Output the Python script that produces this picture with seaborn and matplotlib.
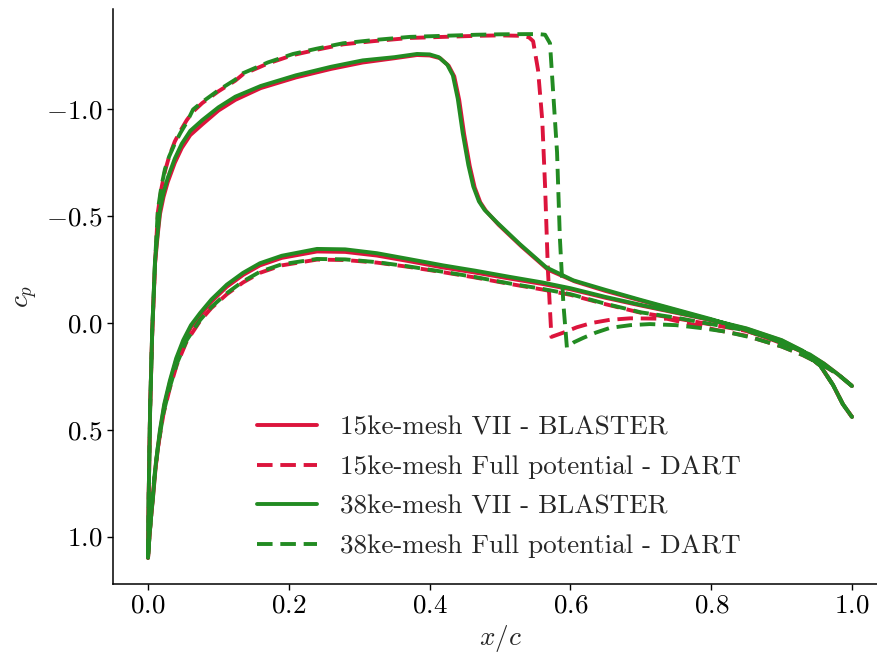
import numpy as np
import matplotlib
matplotlib.use("Agg")
import matplotlib.pyplot as plt
import seaborn as sns

# ---------------------------------------------------------------------------
# Pressure coefficient distributions (upper / lower surface, LE -> TE)
# ---------------------------------------------------------------------------

# 15ke-mesh, viscous-inviscid interaction (BLASTER)
vii15_up_x = [0.0, 0.001, 0.003, 0.006, 0.010, 0.014, 0.017, 0.022, 0.028, 0.038, 0.048,
              0.060, 0.077, 0.10, 0.124, 0.16, 0.21, 0.26, 0.305, 0.35, 0.382, 0.40, 0.415,
              0.427, 0.435, 0.442, 0.449, 0.457, 0.464, 0.472, 0.480, 0.498, 0.530, 0.568,
              0.606, 0.65, 0.70, 0.75, 0.80, 0.84, 0.88, 0.912, 0.94, 0.96, 0.98, 1.0]
vii15_up_cp = [1.10, 0.80, 0.40, 0.04, -0.28, -0.42, -0.51, -0.59, -0.66, -0.75, -0.82,
               -0.88, -0.93, -0.995, -1.045, -1.10, -1.15, -1.19, -1.22, -1.24, -1.255, -1.253,
               -1.24, -1.205, -1.155, -1.045, -0.885, -0.735, -0.635, -0.565, -0.525, -0.46,
               -0.36, -0.25, -0.195, -0.15, -0.105, -0.06, -0.015, 0.025, 0.07, 0.11, 0.15,
               0.19, 0.24, 0.295]
vii15_lo_x = [0.0, 0.002, 0.004, 0.007, 0.011, 0.017, 0.023, 0.031, 0.04, 0.05, 0.061, 0.074,
              0.09, 0.112, 0.135, 0.159, 0.19, 0.24, 0.28, 0.325, 0.37, 0.419, 0.465, 0.514,
              0.56, 0.60, 0.65, 0.70, 0.75, 0.80, 0.85, 0.90, 0.93, 0.955, 0.973, 0.987, 1.0]
vii15_lo_cp = [1.10, 1.00, 0.92, 0.82, 0.67, 0.51, 0.39, 0.28, 0.175, 0.09, 0.02, -0.035,
               -0.10, -0.17, -0.225, -0.27, -0.305, -0.335, -0.333, -0.316, -0.29, -0.26,
               -0.236, -0.208, -0.183, -0.158, -0.118, -0.082, -0.048, -0.013, 0.027, 0.082,
               0.132, 0.2, 0.29, 0.38, 0.44]

# 15ke-mesh, full potential (DART)
fp15_up_x = [0.0, 0.001, 0.003, 0.006, 0.010, 0.014, 0.019, 0.024, 0.030, 0.038, 0.046,
             0.055, 0.064, 0.077, 0.10, 0.124, 0.135, 0.17, 0.206, 0.24, 0.277, 0.32, 0.372,
             0.42, 0.467, 0.50, 0.530, 0.541, 0.547, 0.554, 0.560, 0.564, 0.568, 0.573,
             0.590, 0.609, 0.630, 0.656, 0.685, 0.737, 0.808, 0.85, 0.90, 0.93, 0.96, 0.98, 1.0]
fp15_up_cp = [1.10, 0.80, 0.40, 0.04, -0.28, -0.52, -0.63, -0.71, -0.78, -0.85, -0.90,
              -0.95, -0.99, -1.03, -1.085, -1.135, -1.165, -1.215, -1.255, -1.28, -1.305,
              -1.32, -1.335, -1.34, -1.345, -1.347, -1.345, -1.338, -1.32, -1.185, -0.95,
              -0.64, -0.25, 0.065, 0.045, 0.02, 0.0, -0.015, -0.022, -0.02, 0.033, 0.06, 0.11,
              0.15, 0.2, 0.24, 0.295]
fp15_lo_x = [0.0, 0.002, 0.005, 0.009, 0.014, 0.022, 0.031, 0.041, 0.055, 0.074, 0.09,
             0.112, 0.135, 0.159, 0.19, 0.24, 0.28, 0.325, 0.37, 0.419, 0.465, 0.514, 0.56,
             0.60, 0.65, 0.70, 0.75, 0.80, 0.85, 0.90, 0.93, 0.955, 0.973, 0.987, 1.0]
fp15_lo_cp = [1.10, 1.00, 0.88, 0.725, 0.585, 0.425, 0.305, 0.195, 0.085, -0.01, -0.07,
              -0.135, -0.19, -0.235, -0.27, -0.297, -0.295, -0.283, -0.263, -0.238, -0.213,
              -0.183, -0.157, -0.132, -0.088, -0.048, -0.022, 0.007, 0.037, 0.09, 0.135, 0.2,
              0.29, 0.38, 0.44]

# 38ke-mesh, viscous-inviscid interaction (BLASTER)
vii38_up_x = [0.0, 0.001, 0.003, 0.006, 0.010, 0.014, 0.017, 0.022, 0.028, 0.038, 0.048,
              0.060, 0.077, 0.10, 0.124, 0.16, 0.21, 0.26, 0.305, 0.35, 0.382, 0.40, 0.413,
              0.425, 0.433, 0.440, 0.447, 0.455, 0.462, 0.470, 0.478, 0.496, 0.528, 0.566,
              0.604, 0.65, 0.70, 0.75, 0.80, 0.84, 0.88, 0.912, 0.94, 0.96, 0.98, 1.0]
vii38_up_cp = [1.10, 0.80, 0.40, 0.03, -0.295, -0.435, -0.53, -0.61, -0.68, -0.77, -0.84,
               -0.90, -0.95, -1.01, -1.06, -1.11, -1.16, -1.20, -1.23, -1.245, -1.26, -1.258,
               -1.245, -1.21, -1.16, -1.05, -0.89, -0.74, -0.64, -0.57, -0.53, -0.47, -0.37,
               -0.26, -0.20, -0.155, -0.108, -0.063, -0.018, 0.022, 0.067, 0.107, 0.147,
               0.19, 0.24, 0.295]
vii38_lo_x = [0.0, 0.002, 0.004, 0.007, 0.011, 0.017, 0.023, 0.031, 0.04, 0.05, 0.061, 0.074,
              0.09, 0.112, 0.135, 0.159, 0.19, 0.24, 0.28, 0.325, 0.37, 0.419, 0.465, 0.514,
              0.56, 0.60, 0.65, 0.70, 0.75, 0.80, 0.85, 0.90, 0.93, 0.955, 0.973, 0.987, 1.0]
vii38_lo_cp = [1.10, 1.00, 0.92, 0.815, 0.66, 0.50, 0.38, 0.27, 0.165, 0.08, 0.01, -0.047,
               -0.11, -0.18, -0.235, -0.28, -0.315, -0.347, -0.345, -0.327, -0.30, -0.27,
               -0.245, -0.216, -0.19, -0.163, -0.122, -0.085, -0.05, -0.015, 0.025, 0.08,
               0.13, 0.2, 0.29, 0.38, 0.44]

# 38ke-mesh, full potential (DART)
fp38_up_x = [0.0, 0.001, 0.003, 0.006, 0.010, 0.014, 0.019, 0.024, 0.030, 0.038, 0.046,
             0.055, 0.064, 0.077, 0.10, 0.124, 0.135, 0.17, 0.206, 0.24, 0.277, 0.32, 0.372,
             0.42, 0.467, 0.50, 0.538, 0.555, 0.564, 0.571, 0.575, 0.581, 0.585, 0.590,
             0.595, 0.605, 0.618, 0.636, 0.656, 0.685, 0.713, 0.75, 0.784, 0.82, 0.86, 0.90,
             0.93, 0.96, 0.98, 1.0]
fp38_up_cp = [1.10, 0.80, 0.40, 0.03, -0.29, -0.53, -0.64, -0.72, -0.78, -0.84, -0.89,
              -0.94, -1.0, -1.035, -1.09, -1.14, -1.17, -1.22, -1.26, -1.285, -1.31, -1.325,
              -1.34, -1.345, -1.35, -1.352, -1.353, -1.353, -1.35, -1.31, -1.105, -0.80,
              -0.40, -0.09, 0.115, 0.09, 0.07, 0.045, 0.023, 0.01, 0.005, 0.01, 0.023, 0.04,
              0.07, 0.11, 0.15, 0.2, 0.24, 0.295]
fp38_lo_x = [0.0, 0.002, 0.005, 0.009, 0.014, 0.022, 0.031, 0.041, 0.055, 0.074, 0.09,
             0.112, 0.135, 0.159, 0.19, 0.24, 0.28, 0.325, 0.37, 0.419, 0.465, 0.514, 0.56,
             0.60, 0.65, 0.70, 0.75, 0.80, 0.85, 0.90, 0.93, 0.955, 0.973, 0.987, 1.0]
fp38_lo_cp = [1.10, 1.00, 0.88, 0.72, 0.58, 0.42, 0.30, 0.19, 0.08, -0.014, -0.075, -0.14,
              -0.195, -0.24, -0.275, -0.30, -0.298, -0.285, -0.265, -0.24, -0.215, -0.185,
              -0.16, -0.135, -0.09, -0.05, -0.025, 0.005, 0.035, 0.09, 0.135, 0.2, 0.29, 0.38,
              0.44]

labels = ["15ke-mesh VII - BLASTER", "15ke-mesh Full potential - DART",
          "38ke-mesh VII - BLASTER", "38ke-mesh Full potential - DART"]
colors = ["crimson", "crimson", "forestgreen", "forestgreen"]
styles = ["-", (0, (4, 2)), "-", (0, (4, 2))]
x_ticks = [0.0, 0.2, 0.4, 0.6, 0.8, 1.0]
y_ticks = [-1.0, -0.5, 0.0, 0.5, 1.0]

series = [
    (vii15_up_x, vii15_up_cp, vii15_lo_x, vii15_lo_cp),
    (fp15_up_x, fp15_up_cp, fp15_lo_x, fp15_lo_cp),
    (vii38_up_x, vii38_up_cp, vii38_lo_x, vii38_lo_cp),
    (fp38_up_x, fp38_up_cp, fp38_lo_x, fp38_lo_cp),
]

# ---------------------------------------------------------------------------
sns.set_theme(style="ticks")
plt.rcParams.update({
    "font.family": "serif",
    "font.serif": ["cmr10"],
    "mathtext.fontset": "cm",
    "axes.formatter.use_mathtext": True,
    "axes.unicode_minus": True,
    "font.size": 19.5,
    "axes.labelsize": 19.5,
    "xtick.labelsize": 19.5,
    "ytick.labelsize": 19.5,
    "legend.fontsize": 19.5,
    "axes.linewidth": 1.1,
    "xtick.major.size": 4,
    "ytick.major.size": 4,
    "xtick.major.width": 1.0,
    "ytick.major.width": 1.0,
    "axes.edgecolor": "black",
    "xtick.color": "black",
    "ytick.color": "black",
})

fig = plt.figure(figsize=(8.78, 6.61), dpi=100)
ax = fig.add_axes([0.1285, 0.1172, 0.882, 0.869])

for (ux, ucp, lx, lcp), lab, col, ls in zip(series, labels, colors, styles):
    # closed contour: upper surface TE -> LE, then lower surface LE -> TE
    xs = np.concatenate([np.asarray(ux)[::-1], np.asarray(lx)[1:]])
    cps = np.concatenate([np.asarray(ucp)[::-1], np.asarray(lcp)[1:]])
    sns.lineplot(x=xs, y=cps, sort=False, estimator=None, color=col, linestyle=ls,
                 linewidth=2.8, label=lab, ax=ax)

ax.set_xlim(-0.05, 1.05)
ax.set_ylim(1.22, -1.47)
ax.set_xticks(x_ticks)
ax.set_yticks(y_ticks)
ax.set_xlabel(r"$x/c$")
ax.set_ylabel(r"$c_p$")
sns.despine(ax=ax)

ax.legend(loc="center", bbox_to_anchor=(499 / 878, 1 - 487 / 661),
          bbox_transform=fig.transFigure, frameon=False, handlelength=2.2,
          handletextpad=0.85, labelspacing=0.58, borderpad=0.0)

fig.savefig("out.png", dpi=100)
